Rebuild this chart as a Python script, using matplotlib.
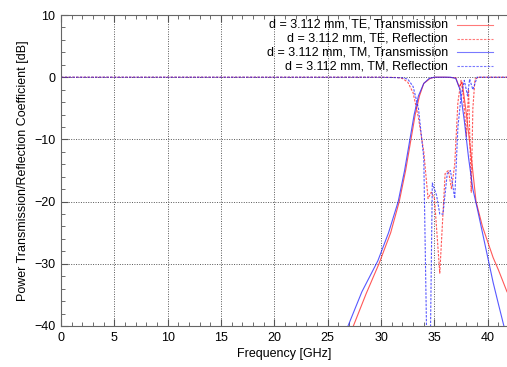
import matplotlib
matplotlib.use("Agg")
import matplotlib.pyplot as plt
from matplotlib.ticker import MultipleLocator

plt.rcParams['font.family'] = ['Liberation Sans', 'DejaVu Sans']

labels = ["d = 3.112 mm, TE, Transmission",
          "d = 3.112 mm, TE, Reflection",
          "d = 3.112 mm, TM, Transmission",
          "d = 3.112 mm, TM, Reflection"]

te_t_f = [26.5, 27.4, 28.6, 29.8, 30.9, 31.7, 32.3, 32.8, 33.2, 33.6, 34.0, 34.6, 35.0,
          36.0, 37.0, 37.3, 37.6, 38.0, 38.4, 38.9, 39.5, 40.0, 40.5, 41.0, 41.8]
te_t_db = [-44, -40, -34.8, -30, -25, -20, -15, -10, -6, -3, -1, -0.2, 0,
           0, -0.1, -1.5, -0.8, -6, -12, -20, -24, -26.5, -29, -31, -34.5]

te_r_f = [0, 30.0, 31.5, 32.0, 32.5, 33.0, 33.5, 34.0, 34.4, 34.7, 35.0, 35.5, 36.0, 36.3,
          36.6, 36.9, 37.2, 37.5, 37.7, 38.0, 38.2, 38.45, 38.6, 38.8, 39.2, 41.8]
te_r_db = [0, 0, -0.05, -0.2, -0.8, -2.5, -6.5, -12, -19.5, -18.5, -19.5, -31.5, -15.5, -15,
           -18, -14, -4, -0.5, -3, -9.5, -2, -18.5, -5, -0.3, 0, 0]

tm_t_f = [26.0, 26.9, 28.2, 29.7, 30.7, 31.6, 32.2, 32.7, 33.1, 33.5, 34.0, 34.5, 35.0,
          36.5, 37.0, 37.4, 37.8, 38.2, 38.6, 39.0, 39.5, 40.0, 40.5, 41.0, 41.8]
tm_t_db = [-44, -40, -34.5, -29.5, -25, -20, -15, -10, -6, -3, -1, -0.2, 0,
           0, -0.2, -2, -7, -13, -18, -21, -25, -29, -33, -36.5, -42]

tm_r_f = [0, 30.0, 32.0, 32.5, 33.0, 33.5, 34.0, 34.3, 34.6, 34.8, 35.2, 35.5, 35.8, 36.2,
          36.5, 36.9, 37.2, 37.5, 37.8, 38.1, 38.3, 38.6, 39.0, 41.8]
tm_r_db = [0, 0, -0.1, -0.3, -1.5, -5, -13, -45, -45, -17, -19, -22, -22, -15.5,
           -15, -19.5, -8, -3, -0.5, -3, -0.3, -2, 0, 0]

fig = plt.figure(figsize=(5.07, 3.67), dpi=100)
ax = fig.add_axes([61/507, 1-326/367, 446/507, 311/367])

red = '#ff2020'
blue = '#2020ff'
series = [(te_t_f, te_t_db, red, '-'),
          (te_r_f, te_r_db, red, (0, (2.2, 1.2))),
          (tm_t_f, tm_t_db, blue, '-'),
          (tm_r_f, tm_r_db, blue, (0, (2.2, 1.2)))]
for f, db, c, ls in series:
    ax.plot(f, db, color=c, linestyle=ls, linewidth=0.8, alpha=0.75)

ax.set_xlim(0, 41.8)
ax.set_ylim(-40, 10)
ax.xaxis.set_major_locator(MultipleLocator(5))
ax.xaxis.set_minor_locator(MultipleLocator(1))
ax.yaxis.set_major_locator(MultipleLocator(10))
ax.yaxis.set_minor_locator(MultipleLocator(2))
ax.tick_params(which='both', direction='in', top=True, right=False, labelsize=9, color='#555555')
ax.tick_params(which='major', length=5, width=0.8, pad=4)
ax.tick_params(which='minor', length=3, width=0.6)
ax.grid(True, which='major', linestyle=(0, (1, 1.5)), color='#555555', linewidth=0.7)
for s in ['left', 'bottom', 'top']:
    ax.spines[s].set_color('#666666')
ax.spines['right'].set_visible(False)

ax.set_xlabel("Frequency [GHz]", fontsize=9, labelpad=3)
ax.set_ylabel("Power Transmission/Reflection Coefficient [dB]", fontsize=9, labelpad=4)

rows = [0.968, 0.923, 0.881, 0.836]
for (f, db, c, ls), lab, yy in zip(series, labels, rows):
    ax.text(0.868, yy, lab, transform=ax.transAxes, ha='right', va='center', fontsize=9)
    ax.plot([0.888, 0.969], [yy, yy], transform=ax.transAxes, color=c, linestyle=ls,
            linewidth=0.8, alpha=0.6, clip_on=False)

fig.savefig("out.png", dpi=100)
